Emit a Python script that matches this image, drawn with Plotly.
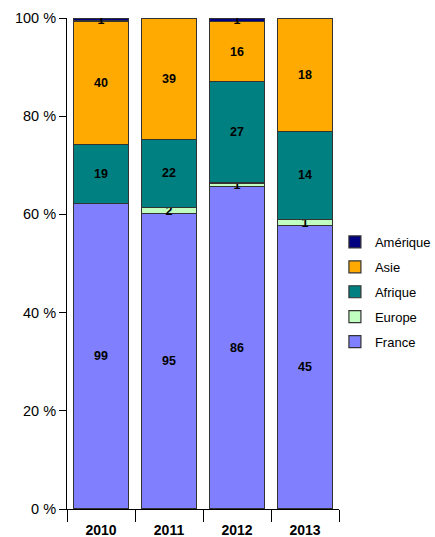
import plotly.graph_objects as go

years = ["2010", "2011", "2012", "2013"]
france = [99, 95, 86, 45]
europe = [0, 2, 1, 1]
afrique = [19, 22, 27, 14]
asie = [40, 39, 16, 18]
amerique = [1, 0, 1, 0]
y_ticks = [0, 20, 40, 60, 80, 100]
y_labels = ["0 %", "20 %", "40 %", "60 %", "80 %", "100 %"]

series = [
    ("France", france, "#8080FF"),
    ("Europe", europe, "#C0FFC0"),
    ("Afrique", afrique, "#008080"),
    ("Asie", asie, "#FFAA00"),
    ("Amérique", amerique, "#000080"),
]

FONT = "Liberation Sans, Arial, sans-serif"

fig = go.Figure()
n = len(series)
for i, (name, vals, col) in enumerate(series):
    fig.add_trace(go.Bar(
        x=years, y=vals, name=name, legendgroup=name, legendrank=n - i,
        marker=dict(color=col, line=dict(color="#333333", width=1.2)),
        text=[str(v) if v else "" for v in vals],
        textposition="inside", insidetextanchor="middle", textangle=0,
        textfont=dict(family=FONT, size=12.5, color="black", weight="bold"),
        hoverinfo="skip",
    ))

fig.update_layout(
    barmode="stack", barnorm="percent", bargap=0.19,
    width=435, height=537,
    margin=dict(l=67, r=96, t=18, b=28, autoexpand=False),
    plot_bgcolor="white", paper_bgcolor="white",
    font=dict(family=FONT, size=13, color="black"),
    uniformtext=dict(minsize=12.5, mode="show"),
    legend=dict(x=0.985, y=0.442, yanchor="middle", xanchor="left",
                traceorder="grouped", font=dict(size=13),
                tracegroupgap=5),
    showlegend=True,
)
fig.update_yaxes(range=[0, 100], tickvals=y_ticks, ticktext=y_labels,
                 ticks="outside", ticklen=7, tickcolor="black", showline=True,
                 linecolor="black", linewidth=1, showgrid=False, zeroline=False,
                 tickfont=dict(size=14.5), automargin=False)
fig.update_xaxes(showline=True, linecolor="black", linewidth=1, ticks="outside",
                 tickson="boundaries", ticklen=12, tickcolor="black", showgrid=False,
                 tickfont=dict(size=14, weight="bold"), automargin=False,
                 ticklabelstandoff=8)

fig.write_html("out.html", config={"displayModeBar": False},
               post_script="document.body.style.margin='0';")
